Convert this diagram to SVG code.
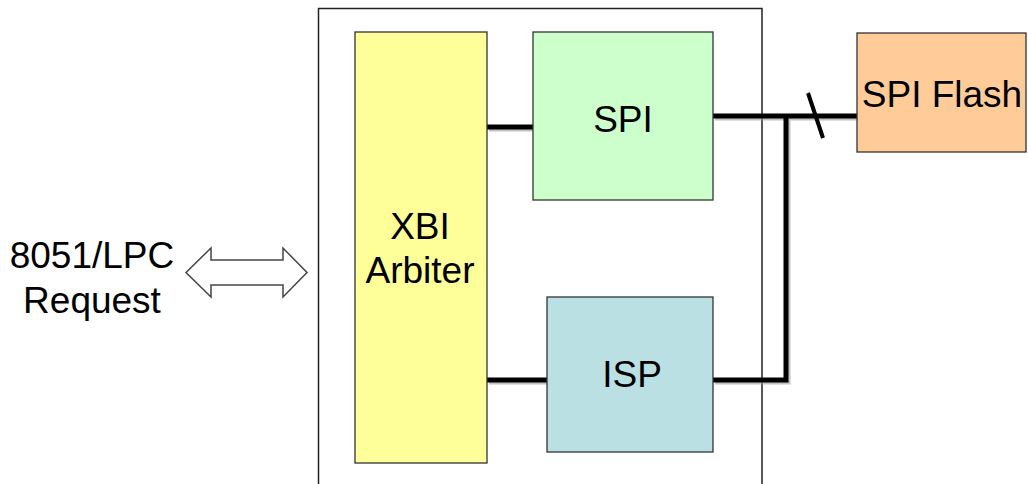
<svg xmlns="http://www.w3.org/2000/svg" width="1028" height="484" viewBox="0 0 1028 484">
<style>
  .box { stroke: #333; stroke-width: 1.3; }
  .lbl { font-family: "Liberation Sans", Arial, sans-serif; font-size: 37px; fill: #000; text-anchor: middle; }
  .bus { fill: none; stroke: #000; stroke-width: 5; }
  .shadow { fill: none; stroke: #999; stroke-width: 5; }
</style>
<rect width="1028" height="484" fill="#fff"/>
<g id="container">
  <rect x="318.5" y="8.5" width="443.5" height="490" fill="#fff" stroke="#222" stroke-width="1.5"/>
</g>
<g id="connectors">
  <g transform="translate(2,2)" opacity="0.6">
    <line class="shadow" x1="487" y1="127" x2="533" y2="127"/>
    <line class="shadow" x1="487" y1="380" x2="547" y2="380"/>
    <polyline class="shadow" points="713,380 786,380 786,116"/>
    <line class="shadow" x1="713" y1="116" x2="857" y2="116"/>
  </g>
  <line class="bus" x1="487" y1="127" x2="533" y2="127"/>
  <line class="bus" x1="487" y1="380" x2="547" y2="380"/>
  <polyline class="bus" points="713,380 786,380 786,116"/>
  <line class="bus" x1="713" y1="116" x2="857" y2="116"/>
  <line x1="808" y1="93" x2="823" y2="138" stroke="#000" stroke-width="4"/>
  <polygon points="186,272.5 211,248 211,260 283,260 283,248 307,272.5 283,297 283,285 211,285 211,297" fill="#fff" stroke="#444" stroke-width="1.5"/>
</g>
<g id="request">
  <text class="lbl" x="92" y="268">8051/LPC</text>
  <text class="lbl" x="92" y="313">Request</text>
</g>
<g id="xbi">
  <rect class="box" x="355" y="32" width="132" height="431" fill="#FFFF99"/>
  <text class="lbl" x="420" y="239">XBI</text>
  <text class="lbl" x="420" y="283">Arbiter</text>
</g>
<g id="spi">
  <rect class="box" x="533" y="32" width="180" height="168" fill="#CCFFCC"/>
  <text class="lbl" x="623" y="132">SPI</text>
</g>
<g id="isp">
  <rect class="box" x="547" y="297" width="166" height="155" fill="#BBE0E3"/>
  <text class="lbl" x="632" y="387">ISP</text>
</g>
<g id="spiflash">
  <rect class="box" x="857" y="33" width="169" height="119" fill="#FFCC99"/>
  <text class="lbl" x="942" y="107">SPI Flash</text>
</g>
</svg>
